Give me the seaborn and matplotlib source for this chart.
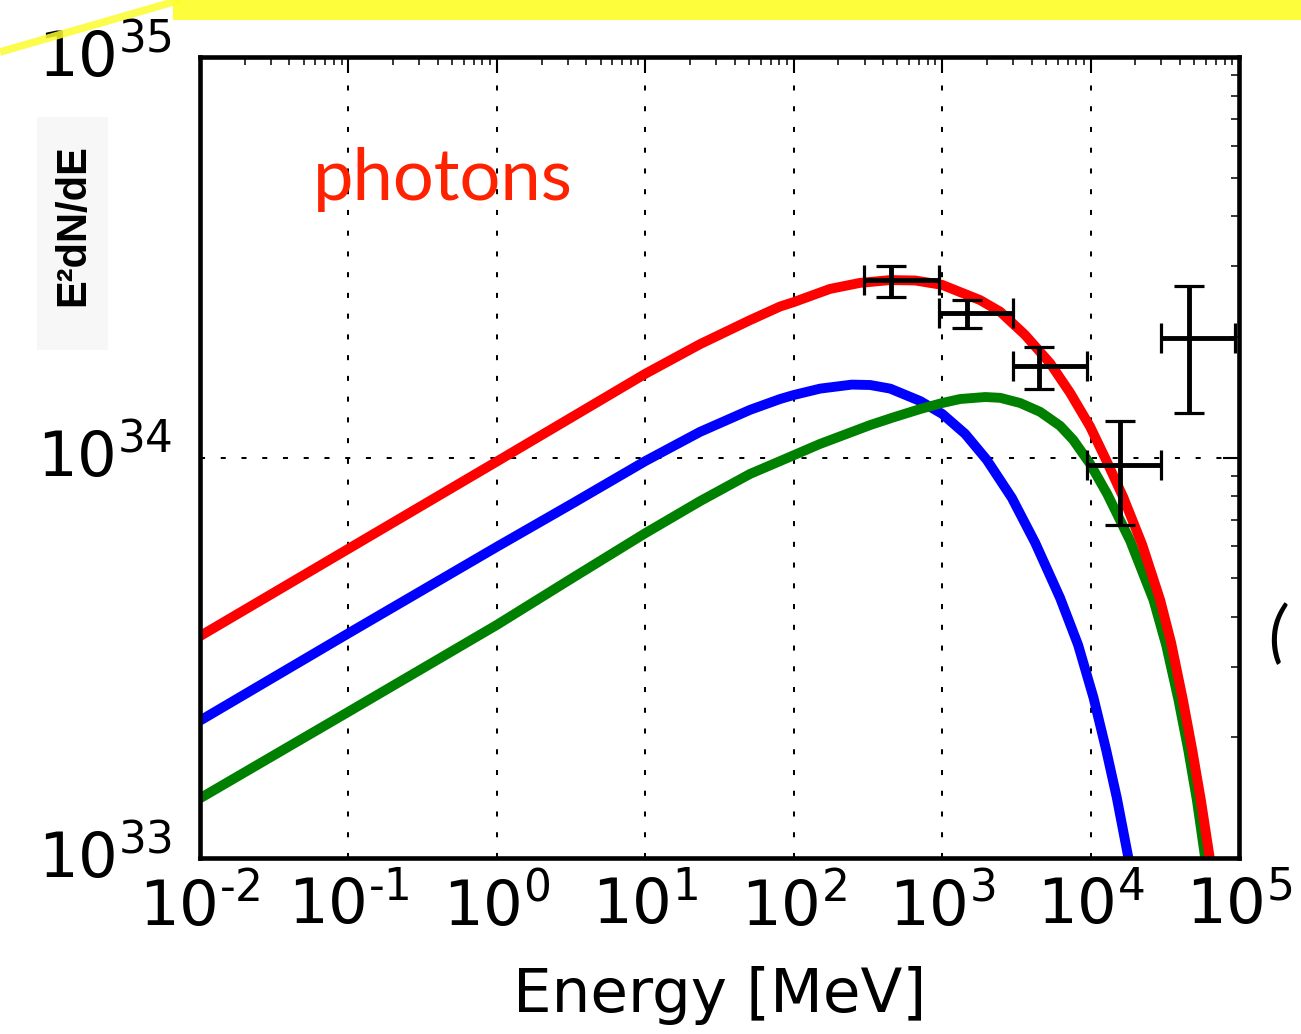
import matplotlib
matplotlib.use("Agg")
import numpy as np
import pandas as pd
import matplotlib.pyplot as plt
import seaborn as sns
from matplotlib.patches import Rectangle
from matplotlib.lines import Line2D
from matplotlib.transforms import ScaledTranslation
from matplotlib.ticker import FixedLocator, FixedFormatter, LogLocator, NullFormatter

# ---- spectra: log10(E / MeV) and log10(E^2 dN/dE) ----
total_logE = [-2.0, 0.0, 1.0, 1.369, 1.706, 1.908, 2.0, 2.245, 2.447, 2.650, 2.818,
              3.0, 3.256, 3.391, 3.559, 3.728, 3.863, 3.997, 4.098, 4.220, 4.348,
              4.469, 4.543, 4.622, 4.685, 4.743, 4.803]
total_logF = [33.554, 33.990, 34.209, 34.283, 34.343, 34.377, 34.388, 34.421, 34.436,
              34.443, 34.442, 34.431, 34.393, 34.364, 34.306, 34.235, 34.161, 34.077,
              33.999, 33.901, 33.782, 33.644, 33.537, 33.395, 33.270, 33.145, 33.0]

blue_logE = [-2.0, -1.0, 0.0, 0.513, 1.0, 1.369, 1.706, 1.908, 2.0, 2.178, 2.392,
             2.515, 2.650, 2.852, 3.0, 3.155, 3.301, 3.470, 3.627, 3.795, 3.916,
             4.020, 4.105, 4.177, 4.255]
blue_logF = [33.343, 33.561, 33.777, 33.886, 33.991, 34.064, 34.119, 34.146, 34.156,
             34.172, 34.182, 34.181, 34.172, 34.141, 34.109, 34.059, 33.994, 33.899,
             33.787, 33.649, 33.532, 33.400, 33.270, 33.150, 33.0]

green_logE = [-2.0, -1.0, 0.0, 0.513, 1.0, 1.369, 1.706, 1.908, 2.178, 2.515, 2.670,
              2.852, 3.0, 3.121, 3.290, 3.391, 3.526, 3.660, 3.795, 3.883, 3.997,
              4.112, 4.267, 4.424, 4.509, 4.592, 4.658, 4.716, 4.772]
green_logF = [33.149, 33.365, 33.582, 33.700, 33.811, 33.891, 33.959, 33.991, 34.034,
              34.081, 34.100, 34.121, 34.136, 34.146, 34.151, 34.149, 34.136, 34.114,
              34.079, 34.044, 33.984, 33.909, 33.792, 33.644, 33.532, 33.395, 33.270,
              33.145, 33.0]

# ---- measured points ----
pt_E = [451.0, 1466.0, 4460.0, 1.58e4, 4.57e4]
pt_E_lo = [299.0, 955.0, 2990.0, 9530.0, 2.99e4]
pt_E_hi = [955.0, 2990.0, 9530.0, 2.99e4, 9.42e4]
pt_F = [2.77e34, 2.29e34, 1.69e34, 9.57e33, 1.99e34]
pt_F_lo = [2.51e34, 2.11e34, 1.48e34, 6.78e33, 1.29e34]
pt_F_hi = [3.01e34, 2.47e34, 1.89e34, 1.236e34, 2.68e34]

x_tick_vals = [1e-2, 1e-1, 1e0, 1e1, 1e2, 1e3, 1e4, 1e5]
x_tick_text = ["$10^{\u20102}$", "$10^{\u20101}$", "$10^{0}$", "$10^{1}$", "$10^{2}$",
               "$10^{3}$", "$10^{4}$", "$10^{5}$"]
y_tick_vals = [1e33, 1e34, 1e35]
y_tick_text = ["$10^{33}$", "$10^{34}$", "$10^{35}$"]

sns.set_style("white")
plt.rcParams["font.family"] = ["DejaVu Sans"]
plt.rcParams["mathtext.fontset"] = "dejavusans"
plt.rcParams["text.color"] = "black"
plt.rcParams["axes.labelcolor"] = "black"
plt.rcParams["xtick.color"] = "black"
plt.rcParams["ytick.color"] = "black"

W, H = 1301, 1034
fig = plt.figure(figsize=(W / 100, H / 100), dpi=100)
fig.patch.set_facecolor("white")
ax = fig.add_axes([200 / W, 1 - 858 / H, (1239 - 200) / W, (858 - 57) / H])
ax.set_xscale("log")
ax.set_yscale("log")

curves = [("blue", blue_logE, blue_logF),
          ("green", green_logE, green_logF),
          ("red", total_logE, total_logF)]
for z, (col, le, lf) in enumerate(curves):
    df = pd.DataFrame({"E": 10.0 ** np.array(le), "F": 10.0 ** np.array(lf)})
    sns.lineplot(data=df, x="E", y="F", ax=ax, color=col, linewidth=7.1,
                 sort=False, estimator=None, zorder=3 + z,
                 solid_capstyle="butt", solid_joinstyle="round")

pe = np.array(pt_E); pf = np.array(pt_F)
ax.errorbar(pe, pf,
            xerr=[pe - np.array(pt_E_lo), np.array(pt_E_hi) - pe],
            yerr=[pf - np.array(pt_F_lo), np.array(pt_F_hi) - pf],
            fmt="none", ecolor="black", elinewidth=3.5, capsize=10.8,
            capthick=2.3, zorder=10, clip_on=False)

ax.set_xlim(1e-2, 1e5)
ax.set_ylim(1e33, 1e35)

ax.xaxis.set_major_locator(FixedLocator(x_tick_vals))
ax.xaxis.set_major_formatter(FixedFormatter(x_tick_text))
ax.xaxis.set_minor_locator(LogLocator(base=10, subs=np.arange(2, 10), numticks=30))
ax.xaxis.set_minor_formatter(NullFormatter())
ax.yaxis.set_major_locator(FixedLocator(y_tick_vals))
ax.yaxis.set_major_formatter(FixedFormatter(y_tick_text))
ax.yaxis.set_minor_locator(LogLocator(base=10, subs=np.arange(2, 10), numticks=30))
ax.yaxis.set_minor_formatter(NullFormatter())

ax.tick_params(which="both", direction="in", top=True, right=True, colors="black")
ax.tick_params(which="major", length=11.5, width=1.5, labelsize=45)
ax.tick_params(which="minor", length=5.8, width=1.1)
ax.tick_params(axis="x", which="major", pad=12)
ax.tick_params(axis="y", which="major", pad=20)

# lift the y tick labels so the digits sit centred on their ticks
lift = ScaledTranslation(0, 6 / 100, fig.dpi_scale_trans)
for lab in ax.get_yticklabels():
    lab.set_transform(lab.get_transform() + lift)

ax.grid(True, which="major", color="black", linestyle=(0, (2.5, 7.8)), linewidth=1.45)
ax.set_axisbelow(True)
for s in ax.spines.values():
    s.set_visible(True)
    s.set_color("black")
    s.set_linewidth(3.3)
    s.set_zorder(12)

ax.set_xlabel("Energy [MeV]", fontsize=44, labelpad=20, color="black")
ax.set_ylabel("")

# y-axis quantity, set in a pale panel
fig.patches.append(Rectangle((37 / W, 1 - 350 / H), 71 / W, 233 / H,
                             transform=fig.transFigure, facecolor="#f7f7f7",
                             edgecolor="none", zorder=0))
fig.text(73 / W, 1 - 225 / H, "E\u00b2dN/dE", rotation=90, ha="center", va="center",
         fontsize=30, fontweight="bold", family=["Liberation Sans", "DejaVu Sans"],
         color="black")

fig.text(313 / W, 1 - 200 / H, "photons", ha="left", va="baseline", fontsize=52,
         family=["Lato", "DejaVu Sans"], color="#ff2200")

fig.text(1268 / W, 1 - 655 / H, "(", ha="left", va="baseline", fontsize=48,
         style="italic", family=["Lato", "DejaVu Sans"], color="black")

# highlighter strokes along the top
fig.patches.append(Rectangle((173 / W, 1 - 20 / H), (W - 173) / W, 20 / H,
                             transform=fig.transFigure, facecolor="#fdfd3c",
                             edgecolor="none", zorder=20))
fig.lines.append(Line2D([0, 180 / W], [1 - 52 / H, 1.0], transform=fig.transFigure,
                        color="#fcfc30", alpha=0.85, linewidth=5.5, zorder=21,
                        solid_capstyle="butt"))

fig.savefig("out.png", dpi=100)
